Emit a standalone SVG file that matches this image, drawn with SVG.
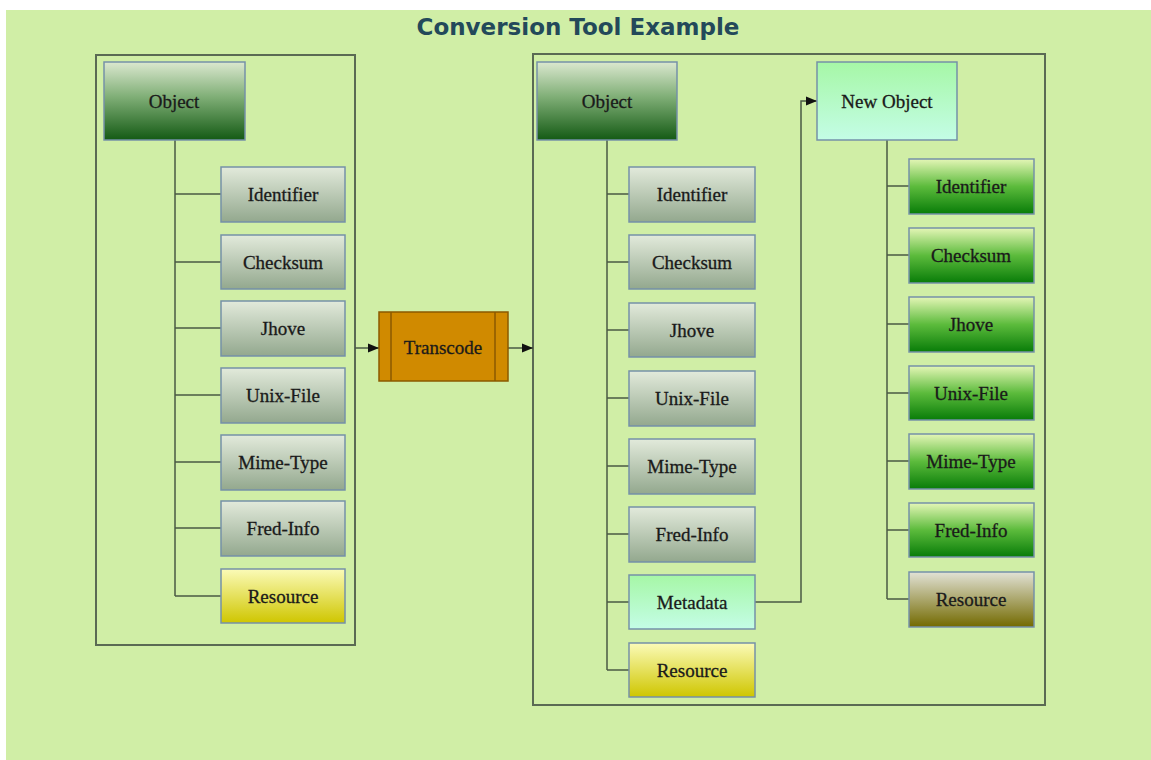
<svg xmlns="http://www.w3.org/2000/svg" width="1151" height="760" viewBox="0 0 1151 760">
<defs>
<linearGradient id="gObj" x1="0" y1="0" x2="0" y2="1"><stop offset="0" stop-color="#dbe8cf"/><stop offset="0.45" stop-color="#7fae76"/><stop offset="1" stop-color="#145a14"/></linearGradient>
<linearGradient id="gGrey" x1="0" y1="0" x2="0" y2="1"><stop offset="0" stop-color="#e2eadb"/><stop offset="1" stop-color="#93a88e"/></linearGradient>
<linearGradient id="gYel" x1="0" y1="0" x2="0" y2="1"><stop offset="0" stop-color="#fbfbb8"/><stop offset="1" stop-color="#cfc600"/></linearGradient>
<linearGradient id="gMint" x1="0" y1="0" x2="0" y2="1"><stop offset="0" stop-color="#a6f7a6"/><stop offset="1" stop-color="#c4fde6"/></linearGradient>
<linearGradient id="gGreen" x1="0" y1="0" x2="0" y2="1"><stop offset="0" stop-color="#e4f6b6"/><stop offset="0.5" stop-color="#5cbb3c"/><stop offset="1" stop-color="#087c08"/></linearGradient>
<linearGradient id="gBrown" x1="0" y1="0" x2="0" y2="1"><stop offset="0" stop-color="#e2e2d6"/><stop offset="1" stop-color="#736a00"/></linearGradient>
<marker id="arr" viewBox="0 0 10 10" refX="10" refY="5" markerWidth="11" markerHeight="11" markerUnits="userSpaceOnUse" orient="auto"><path d="M0,1 L10,5 L0,9 z" fill="#111"/></marker>
</defs>
<style>
.box{stroke:#7591a8;stroke-width:1.5}
.t{font-family:"Liberation Serif","Times New Roman",serif;font-size:19px;fill:#1a1a1a;stroke:#1a1a1a;stroke-width:0.3;text-anchor:middle;dominant-baseline:central}
.c{fill:none;stroke:#4a5a44;stroke-width:1.5}
.frame{fill:none;stroke:#5a6a54;stroke-width:2}
</style>
<rect x="0" y="0" width="1151" height="760" fill="#ffffff"/>
<rect x="6" y="10" width="1145" height="750" fill="#d0eea6"/>
<text x="578" y="27" font-family="'DejaVu Sans',Verdana,sans-serif" font-weight="bold" font-size="23" fill="#23495a" text-anchor="middle" dominant-baseline="central">Conversion Tool Example</text>
<rect class="frame" x="96" y="55" width="259" height="590"/>
<rect class="frame" x="533" y="54" width="512" height="651"/>
<g id="connectors">
<path class="c" d="M175,140 V596 M175,194 H221 M175,262 H221 M175,328 H221 M175,395 H221 M175,462 H221 M175,528 H221 M175,596 H221"/>
<path class="c" d="M607,140 V670 M607,194 H629 M607,262 H629 M607,330 H629 M607,398 H629 M607,466 H629 M607,534 H629 M607,602 H629 M607,670 H629"/>
<path class="c" d="M887,140 V599 M887,186 H909 M887,255 H909 M887,324 H909 M887,393 H909 M887,461 H909 M887,530 H909 M887,599 H909"/>
<path class="c" d="M355,348 H379" marker-end="url(#arr)"/>
<path class="c" d="M508,348 H533" marker-end="url(#arr)"/>
<path class="c" d="M755,602 H801 V101 H817" marker-end="url(#arr)"/>
</g>
<g id="obj1"><rect class="box" x="104" y="62" width="141" height="78" fill="url(#gObj)"/><text class="t" x="174" y="101">Object</text></g>
<g id="l-identifier"><rect class="box" x="221" y="167" width="124" height="55" fill="url(#gGrey)"/><text class="t" x="283" y="194">Identifier</text></g>
<g id="l-checksum"><rect class="box" x="221" y="235" width="124" height="54" fill="url(#gGrey)"/><text class="t" x="283" y="262">Checksum</text></g>
<g id="l-jhove"><rect class="box" x="221" y="301" width="124" height="55" fill="url(#gGrey)"/><text class="t" x="283" y="328">Jhove</text></g>
<g id="l-unix"><rect class="box" x="221" y="368" width="124" height="55" fill="url(#gGrey)"/><text class="t" x="283" y="395">Unix-File</text></g>
<g id="l-mime"><rect class="box" x="221" y="435" width="124" height="55" fill="url(#gGrey)"/><text class="t" x="283" y="462">Mime-Type</text></g>
<g id="l-fred"><rect class="box" x="221" y="501" width="124" height="55" fill="url(#gGrey)"/><text class="t" x="283" y="528">Fred-Info</text></g>
<g id="l-resource"><rect class="box" x="221" y="569" width="124" height="54" fill="url(#gYel)"/><text class="t" x="283" y="596">Resource</text></g>
<g id="transcode"><rect x="379" y="312" width="129" height="69" fill="#d08a00" stroke="#8a5a00" stroke-width="1.5"/><path d="M391,312 V381 M495,312 V381" stroke="#8a5a00" stroke-width="1.5"/><text class="t" x="443" y="347">Transcode</text></g>
<g id="obj2"><rect class="box" x="537" y="62" width="140" height="78" fill="url(#gObj)"/><text class="t" x="607" y="101">Object</text></g>
<g id="r-identifier"><rect class="box" x="629" y="167" width="126" height="55" fill="url(#gGrey)"/><text class="t" x="692" y="194">Identifier</text></g>
<g id="r-checksum"><rect class="box" x="629" y="235" width="126" height="54" fill="url(#gGrey)"/><text class="t" x="692" y="262">Checksum</text></g>
<g id="r-jhove"><rect class="box" x="629" y="303" width="126" height="54" fill="url(#gGrey)"/><text class="t" x="692" y="330">Jhove</text></g>
<g id="r-unix"><rect class="box" x="629" y="371" width="126" height="55" fill="url(#gGrey)"/><text class="t" x="692" y="398">Unix-File</text></g>
<g id="r-mime"><rect class="box" x="629" y="439" width="126" height="55" fill="url(#gGrey)"/><text class="t" x="692" y="466">Mime-Type</text></g>
<g id="r-fred"><rect class="box" x="629" y="507" width="126" height="55" fill="url(#gGrey)"/><text class="t" x="692" y="534">Fred-Info</text></g>
<g id="r-metadata"><rect class="box" x="629" y="575" width="126" height="54" fill="url(#gMint)"/><text class="t" x="692" y="602">Metadata</text></g>
<g id="r-resource"><rect class="box" x="629" y="643" width="126" height="54" fill="url(#gYel)"/><text class="t" x="692" y="670">Resource</text></g>
<g id="newobj"><rect class="box" x="817" y="62" width="140" height="78" fill="url(#gMint)"/><text class="t" x="887" y="101">New Object</text></g>
<g id="n-identifier"><rect class="box" x="909" y="159" width="125" height="55" fill="url(#gGreen)"/><text class="t" x="971" y="186">Identifier</text></g>
<g id="n-checksum"><rect class="box" x="909" y="228" width="125" height="55" fill="url(#gGreen)"/><text class="t" x="971" y="255">Checksum</text></g>
<g id="n-jhove"><rect class="box" x="909" y="297" width="125" height="55" fill="url(#gGreen)"/><text class="t" x="971" y="324">Jhove</text></g>
<g id="n-unix"><rect class="box" x="909" y="366" width="125" height="54" fill="url(#gGreen)"/><text class="t" x="971" y="393">Unix-File</text></g>
<g id="n-mime"><rect class="box" x="909" y="434" width="125" height="55" fill="url(#gGreen)"/><text class="t" x="971" y="461">Mime-Type</text></g>
<g id="n-fred"><rect class="box" x="909" y="503" width="125" height="54" fill="url(#gGreen)"/><text class="t" x="971" y="530">Fred-Info</text></g>
<g id="n-resource"><rect class="box" x="909" y="572" width="125" height="55" fill="url(#gBrown)"/><text class="t" x="971" y="599">Resource</text></g>
</svg>
